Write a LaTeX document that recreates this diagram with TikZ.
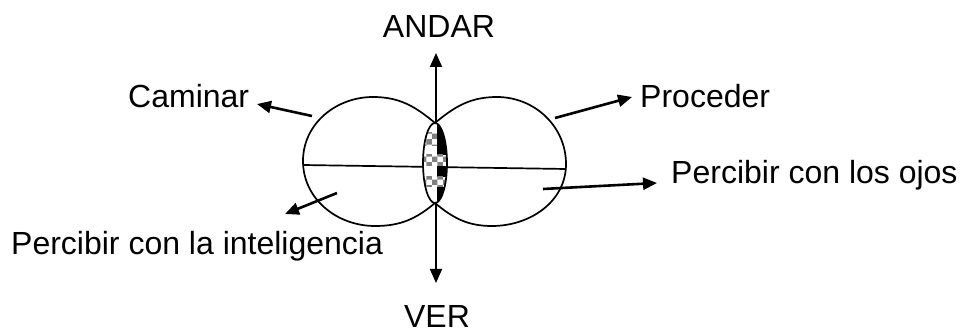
\documentclass[tikz,border=0pt]{standalone}
\usepackage{fontspec}
\setmainfont{Liberation Sans}
\usetikzlibrary{arrows.meta,patterns}
\begin{document}
\begin{tikzpicture}[x=1pt,y=1pt,
  lobe/.style={line width=1.7pt},
  arr/.style={line width=2.6pt,-{Triangle[length=14pt,width=12pt]}},
  varr/.style={line width=1.8pt,{Triangle[length=14pt,width=12pt]}-{Triangle[length=14pt,width=12pt]}},
  lbl/.style={inner sep=0pt,font=\fontsize{32}{37}\selectfont}]
\useasboundingbox (0,0) rectangle (966,332);
% key points
\coordinate (T) at (435,209);
\coordinate (B) at (435,129);
\coordinate (vt) at (436,279);
\coordinate (vb) at (436,49);
% vertical arrow
\draw[varr] (vb) -- (vt);
% lobes
\draw[lobe] (T) to[out=140,in=0] (373,235) to[out=180,in=90] (303,171)
  to[out=-90,in=180] (375,106) to[out=0,in=-140] (B);
\draw[lobe] (T) to[out=40,in=180] (497,235) to[out=0,in=90] (566,168)
  to[out=-90,in=0] (492,106) to[out=180,in=-40] (B);
% horizontal line
\coordinate (hl) at (303,167);
\coordinate (hr) at (566,163);
\draw[lobe] (hl) -- (hr);
% small patterned ellipse
\begin{scope}
  \clip (435,169) ellipse [x radius=12, y radius=40];
  \fill[white] (420,125) rectangle (450,212);
  \fill[black] (437,125) rectangle (450,212);
  \foreach \a/\b in {199/186,177/166,155/145}{
    \fill[white] (420,\a) rectangle (437,\b);
    \fill[pattern=checkerboard, pattern color=gray] (420,\a) rectangle (437,\b);
  }
  \foreach \a/\b in {177/166,155/145}{
    \fill[white] (437,\a) rectangle (450,\b);
    \fill[pattern=checkerboard, pattern color=gray] (437,\a) rectangle (450,\b);
  }
\end{scope}
\draw[lobe] (435,169) ellipse [x radius=12, y radius=40];
% labels
\node[lbl,anchor=base] (andar) at (439,294) {ANDAR};
\node[lbl,anchor=base] (ver) at (437,5) {VER};
\node[lbl,anchor=base west] (caminar) at (128,224) {Caminar};
\node[lbl,anchor=base west] (proceder) at (640,224) {Proceder};
\node[lbl,anchor=base west] (ojos) at (671,148) {Percibir con los ojos};
\node[lbl,anchor=base west] (intel) at (11,77) {Percibir con la inteligencia};
% arrows to labels
\coordinate (c1) at (312,216); \coordinate (c2) at (257,228);
\coordinate (p1) at (555,214); \coordinate (p2) at (632,235);
\coordinate (i1) at (337,139); \coordinate (i2) at (285,118);
\coordinate (o1) at (543,143); \coordinate (o2) at (657,149);
\draw[arr] (c1) -- (c2);
\draw[arr] (p1) -- (p2);
\draw[arr] (i1) -- (i2);
\draw[arr] (o1) -- (o2);
\end{tikzpicture}
\end{document}
